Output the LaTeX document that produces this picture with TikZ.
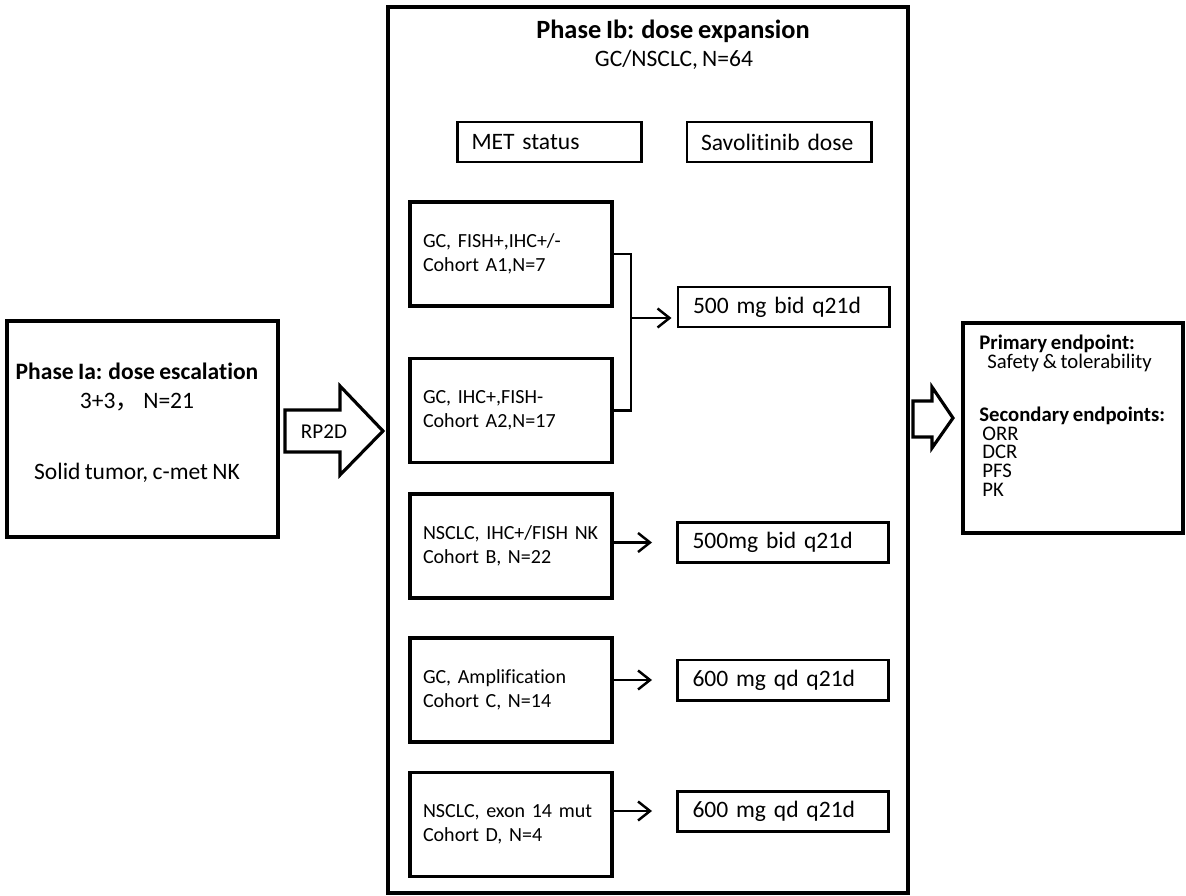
\documentclass[tikz,border=0pt]{standalone}
\usepackage{fontspec}
\setmainfont{Carlito}[Ligatures=NoCommon,WordSpace=0.8]
\newfontfamily\cjk{Noto Sans CJK SC}
\usetikzlibrary{arrows.meta}

\begin{document}
\begin{tikzpicture}[x=0.2mm,y=-0.2mm,font=\fontsize{13.4}{16.5}\selectfont,
  >={Straight Barb[length=2.4mm,width=3.8mm]},
  phasebox/.style={draw,line width=2.2pt,inner sep=0pt},
  hdrbox/.style={draw,line width=1.7pt,minimum width=36.8mm,minimum height=8mm,
    text width=31.2mm,align=left,inner sep=0pt},
  cohort/.style={draw,line width=1.9pt,minimum width=40.4mm,minimum height=20.8mm,
    text width=35.2mm,align=left,inner sep=0pt,font=\fontsize{11.4}{13.6}\selectfont},
  dose/.style={draw,line width=1.7pt,minimum width=42.2mm,minimum height=8mm,
    text width=36.2mm,align=left,inner sep=0pt},
  joinline/.style={line width=1.4pt},
  fatarrow/.style={draw,line width=1.8pt,miter limit=10}]
\useasboundingbox (0,0) rectangle (1186,896);
% phase Ia
\node[phasebox,minimum width=54.2mm,minimum height=43.2mm] (ia) at (142.5,429) {};
\node[align=center,inner sep=0pt] (iatext) at (137,423)
  {\textbf{Phase Ia: dose escalation}\\3+3{\cjk ，} N=21\\[8.4mm]Solid tumor, c-met NK};
\draw[fatarrow] (285,410) -- (340,410) -- (340,386) -- (383,431) -- (340,475)
  -- (340,452) -- (285,452) -- cycle;
\node[font=\fontsize{12}{14}\selectfont] (rp) at (324,432) {RP2D};
% phase Ib
\node[phasebox,minimum width=104mm,minimum height=177.2mm] (ib) at (648,450) {};
\node[font=\fontsize{15}{18}\selectfont] (ibtitle) at (673,31) {\textbf{Phase Ib: dose expansion}};
\node (ibsub) at (674,60) {GC/NSCLC, N=64};
\node[hdrbox] (met) at (549.5,142) {MET status};
\node[hdrbox] (sav) at (779,142) {Savolitinib dose};
% cohorts and doses
\node[cohort] (ca1) at (511,254) {GC, FISH+,IHC+/-\\Cohort A1,N=7};
\node[cohort] (ca2) at (511,410.5) {GC, IHC+,FISH-\\Cohort A2,N=17};
\node[cohort] (cb) at (511,546) {NSCLC, IHC+/FISH NK\\Cohort B, N=22};
\node[cohort] (cc) at (511,690) {GC, Amplification\\Cohort C, N=14};
\node[cohort] (cd) at (511,824.5) {NSCLC, exon 14 mut\\Cohort D, N=4};
\node[dose] (d1) at (783.5,307) {500 mg bid q21d};
\node[dose] (d2) at (783,542.5) {500mg bid q21d};
\node[dose] (d3) at (783,680) {600 mg qd q21d};
\node[dose] (d4) at (783,811) {600 mg qd q21d};
\coordinate (jn) at (631,318);
\draw[joinline] (ca1.east) -| (jn) |- (ca2.east);
\draw[joinline,->,shorten >=1mm] (jn) -- (jn -| d1.west);
\foreach \c/\d in {cb/d2,cc/d3,cd/d4}
  \draw[joinline,->,shorten >=4.8mm] (\c.east |- \d.west) -- (\d.west);
% endpoints
\draw[fatarrow] (913,401) -- (932,401) -- (932,387) -- (953,418) -- (932,448)
  -- (932,437) -- (913,437) -- cycle;
\node[phasebox,line width=1.9pt,minimum width=44mm,minimum height=42mm] (ep) at (1073,428) {};
\node[anchor=north west,align=left,inner sep=0pt,
  font={\fontsize{11.8}{10.6}\selectfont\lineskiplimit=-5pt}] (eptext) at (979,335)
  {\textbf{Primary endpoint:}\\
   \hspace*{1.6mm}Safety \& tolerability\\[6.9mm]
   \textbf{Secondary endpoints:}\\
   \hspace*{0.6mm}ORR\\
   \hspace*{0.6mm}DCR\\
   \hspace*{0.6mm}PFS\\
   \hspace*{0.6mm}PK};
\end{tikzpicture}
\end{document}
